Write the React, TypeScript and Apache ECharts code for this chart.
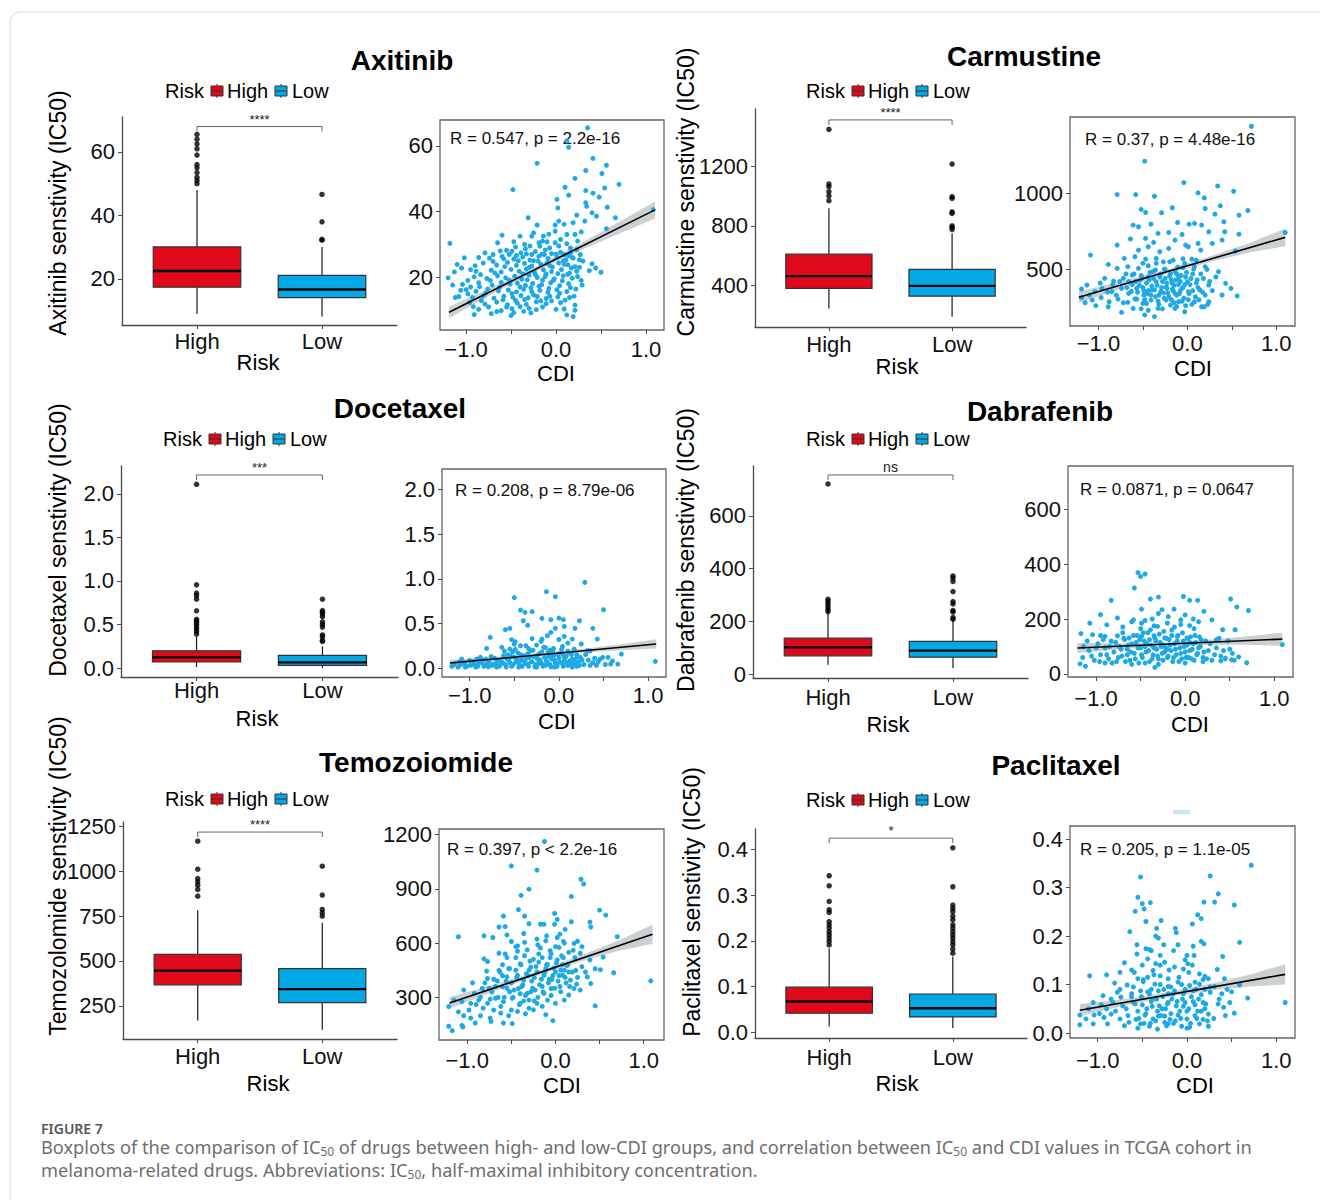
import React, { useEffect, useRef } from "react";
import * as echarts from "echarts";

const FONT = "'Liberation Sans', Arial, Helvetica, sans-serif";
const CAP_FONT = "'Noto Sans', 'Open Sans', sans-serif";
const RED = "#E0091B";
const BLUE = "#04A8E6";
const DOT = "#1DA9E6";

// ===== categories and labels =====
const riskGroups = ["High", "Low"];
const panelTitles = ["Axitinib", "Carmustine", "Docetaxel", "Dabrafenib", "Temozoiomide", "Paclitaxel"];
const yAxisTitles = [
  "Axitinib senstivity (IC50)",
  "Carmustine senstivity (IC50)",
  "Docetaxel senstivity (IC50)",
  "Dabrafenib senstivity (IC50)",
  "Temozolomide senstivity (IC50)",
  "Paclitaxel senstivity (IC50)",
];
const statLabels = [
  "R = 0.547, p = 2.2e-16",
  "R = 0.37, p = 4.48e-16",
  "R = 0.208, p = 8.79e-06",
  "R = 0.0871, p = 0.0647",
  "R = 0.397, p < 2.2e-16",
  "R = 0.205, p = 1.1e-05",
];
const signifLabels = ["****", "****", "***", "ns", "****", "*"];
const bracketLevels = [68, 1508, 2.217, 755, 1218, 0.424];

// ===== tick labels =====
const boxTickValues = [
  [20, 40, 60],
  [400, 800, 1200],
  [0, 0.5, 1, 1.5, 2],
  [0, 200, 400, 600],
  [250, 500, 750, 1000, 1250],
  [0, 0.1, 0.2, 0.3, 0.4],
];
const scatterTickValues = [
  [20, 40, 60],
  [500, 1000],
  [0, 0.5, 1, 1.5, 2],
  [0, 200, 400, 600],
  [300, 600, 900, 1200],
  [0, 0.1, 0.2, 0.3, 0.4],
];
const tickDecimals = [0, 0, 1, 0, 0, 1];
const cdiTickValues = [-1, -0.5, 0, 0.5, 1];
const cdiLabelValues = [-1, 0, 1];

// ===== Axitinib =====
const axitinibHigh = [9, 17.4, 22.5, 30.1, 48];
const axitinibLow = [8.2, 14.1, 16.7, 21.1, 30.1];
const axitinibOutHigh = [65.5, 64, 62.5, 61, 59, 56, 55, 53.5, 52, 51, 50];
const axitinibOutLow = [46.6, 38, 32.5, 32.2];
const axitinibFit = [[-1.19, 9.3], [1.1, 40.5]];
const axitinibBand = [[-1.19, 7.5, 11.1], [-0.7, 15.0, 17.0], [-0.25, 21.4, 22.8], [0.3, 28.5, 30.7], [0.7, 33.2, 36.8], [1.1, 37.9, 43.1]];
const axitinibPoints = [
  [0.35,65.5],[0.12,61.5],[0.14,59.6],[-0.21,54.7],[0.41,56.2],[0.56,54.1],[0.33,52.5],[0.51,51.6],[0.21,50.1],[0.7,48.3],
  [-0.48,46.7],[0.1,47.4],[0.33,46.4],[0.54,47.2],[0.41,45.6],[0.01,43.7],[0.48,44.4],[0.14,45],[0.33,42.7],[0.34,41.6],
  [0.02,41.1],[0.57,41.3],[0.4,39.6],[0.23,38.9],[0.45,38.6],[-0.31,38.1],[0.66,38.1],[0.03,37.1],[0.32,37.1],[-0.21,35.9],
  [-0.01,35.9],[0.09,36.1],[0.19,36.6],[0.56,34.8],[-0.01,34],[-0.6,32.8],[-0.4,32.5],[-0.27,32.5],[-0.14,32.5],[0.12,33],
  [0.21,33],[-1.18,30.3],[-0.65,30.5],[-0.47,30.8],[-0.19,30.5],[-0.1,30.8],[-0.01,30.5],[-0.29,29.5],[-0.18,29.5],[-0.07,28.9],
  [0.03,29.5],[0.16,28.9],[0.23,28.4],[-0.79,27.4],[-0.7,26.9],[-0.49,27.9],[-0.39,27.4],[-0.27,26.9],[0.09,26.9],[0.27,26.9],
  [-1.02,25.9],[-1.1,23.9],[-1.05,22.8],[0.3,24.9],[0.4,24.1],[0.44,22.8],[0.37,22],[0.5,21.5],[0.23,21.8],[-1.2,19.8],
  [-1.13,21.6],[-0.89,21.8],[-0.84,20.8],[1.08,40.6],
  [-0.55,28.2],[-0.34,28.6],[-0.23,27.8],[-0.12,28.3],[0.05,27.6],[0.16,27.5],
  [-0.74,25.8],[-0.6,26.3],[-0.47,25.5],[-0.37,26.1],[-0.29,25.2],[-0.19,26.4],[-0.09,25.7],[0.01,26],[0.11,25.3],[0.19,25.8],
  [-0.81,24.3],[-0.66,23.7],[-0.54,24.5],[-0.44,23.6],[-0.35,24.2],[-0.27,23.4],[-0.17,24],[-0.07,23.5],[0.03,24.3],[0.13,23.8],[0.21,23.2],
  [-0.95,22.3],[-0.72,22.1],[-0.61,21.6],[-0.5,22.4],[-0.41,21.8],[-0.33,22.5],[-0.24,21.5],[-0.14,22.2],[-0.05,21.7],[0.06,22.3],[0.15,21.2],
  [-0.91,20.1],[-0.77,19.6],[-0.65,20.4],[-0.56,19.8],[-0.46,20.3],[-0.38,19.4],[-0.3,20.6],[-0.21,19.9],[-0.12,20.2],[-0.02,19.5],[0.08,20.4],[0.18,19.7],
  [-1.04,17.8],[-0.86,18.3],[-0.71,17.6],[-0.61,18.4],[-0.51,17.9],[-0.43,18.2],[-0.34,17.5],[-0.26,18.1],[-0.16,17.7],[-0.06,18.3],[0.04,17.4],[0.14,18],[0.29,17.6],
  [-1,16.2],[-0.89,15.7],[-0.76,16.4],[-0.64,15.8],[-0.53,16.1],[-0.44,15.5],[-0.36,16.3],[-0.27,15.6],[-0.18,16],[-0.09,15.4],[0.01,16.2],[0.12,15.6],[0.22,16.4],
  [-1.08,14.1],[-0.93,13.8],[-0.81,14.3],[-0.69,13.6],[-0.58,14.2],[-0.48,13.9],[-0.39,14.4],[-0.31,13.7],[-0.21,14.1],[-0.11,13.5],[0.02,14],[0.15,13.8],
  [-0.96,12.3],[-0.79,11.8],[-0.66,12.4],[-0.54,11.6],[-0.43,12.1],[-0.33,11.7],[-0.22,12.5],[-0.11,11.9],[0.05,12.2],[0.21,11.5],
  [-0.86,10.2],[-0.61,9.8],[-0.49,10.4],[-0.36,9.6],[-0.22,10.1],[0.09,10.3],[0.21,9.9],
  [-0.91,8.6],[-0.72,8.9],[-0.5,8.3],[-0.28,9.1],[0.12,8.5],[0.19,8],
  [-0.85,17.1],[-0.78,15.2],[-0.73,19.0],[-0.68,21.3],[-0.63,16.9],[-0.59,13.1],[-0.57,23.2],[-0.52,19.1],[-0.49,15.0],[-0.45,12.9],
  [-0.42,25.0],[-0.4,17.0],[-0.37,21.0],[-0.35,13.2],[-0.32,19.2],[-0.3,23.0],[-0.28,16.8],[-0.25,14.6],[-0.23,20.8],[-0.2,24.9],
  [-0.19,17.2],[-0.17,12.8],[-0.15,19.1],[-0.13,26.9],[-0.11,21.0],[-0.08,16.6],[-0.07,14.2],[-0.04,23.1],[-0.03,19.0],[0.0,27.0],
  [0.02,21.1],[0.04,15.1],[0.07,18.9],[0.09,23.9],[0.1,13.0],[0.13,20.9],[0.16,16.8],[0.18,26.0],[0.2,14.2],[0.24,20.2],
  [0.26,23.0],[0.28,19.0],[-0.95,17.0],[-0.98,14.9],[-0.92,11.0],[-0.83,12.9],[-0.75,10.9],[-0.66,9.5],[-0.55,10.9],[-0.47,9.2],
  [-0.4,11.0],[-0.3,10.5],[-0.15,10.9],[-0.05,12.8],[0.0,10.2],[-0.62,28.0],[-0.45,29.2],[-0.35,30.0],[-0.15,31.0],[0.05,31.5],
  [0.12,30.2],[-0.25,33.5],[-0.08,33.1],[-0.52,26.9],[-0.44,26.6],[-0.33,27.1],[-0.16,27.0],[-0.05,27.2],[0.14,26.6],[0.24,31.0],
  [0.28,33.8],[-0.9,23.5],[-0.98,19.0],[-1.06,16.0],[-1.12,13.8],[-1.15,17.6],[-0.86,26.0],[-0.7,24.8],[-0.58,25.6],[-0.25,25.0],
  [-0.1,24.3],[0.08,24.9],[0.17,22.8],[0.26,25.3],
];

// ===== Carmustine =====
const carmustineHigh = [248, 382, 464, 611, 917];
const carmustineLow = [192, 330, 399, 509, 750];
const carmustineOutHigh = [1445, 1080, 1062, 1028, 1001, 968];
const carmustineOutLow = [1213, 995, 984, 894, 883, 800, 790, 776];
const carmustineFit = [[-1.22, 316], [1.1, 711]];
const carmustineBand = [[-1.22, 278, 354], [-0.7, 381, 428], [-0.25, 467, 495], [0.3, 555, 595], [0.7, 612, 674], [1.1, 652, 770]];
const carmustinePoints = [
  [0.72,1443],[-0.48,1213],[-0.04,1072],[-0.79,993],[-0.58,993],[-0.37,982],[0.12,1004],[0.34,1050],[0.19,971],[0.52,1015],
  [0.37,919],[-0.17,906],[-0.52,895],[-0.47,875],[-0.29,873],[0.2,901],[0.31,864],[0.58,857],[0.68,888],[-0.61,792],
  [-0.55,781],[-0.41,798],[-0.11,809],[0.02,798],[0.08,803],[0.16,792],[0.41,814],[-0.33,737],[-0.21,743],[-0.06,730],
  [0.24,748],[0.42,748],[0.58,732],[-0.64,700],[-0.47,704],[-0.38,678],[-0.14,693],[-0.02,660],[0.12,671],[0.28,671],
  [0.39,693],[-0.79,660],[-1.09,594],[-0.55,627],[-0.44,649],[-0.31,616],[-0.21,638],[0.01,649],[0.15,627],[-0.71,572],
  [-0.59,583],[-0.47,568],[-0.35,572],[-0.27,550],[-0.16,561],[-0.03,539],[0.05,568],[0.54,621],[-0.89,533],[-0.79,507],
  [-0.67,518],[-0.55,507],[-0.44,524],[-0.36,496],[-0.26,502],[-0.14,485],[-0.05,511],[0.07,502],[0.2,518],[0.35,485],
  [-0.93,441],[-0.83,423],[-0.72,441],[-0.62,463],[-0.53,430],[-0.44,452],[-0.35,419],[-0.25,441],[-0.17,408],[-0.1,445],
  [0,419],[0.11,430],[0.24,397],[0.43,408],[0.49,375],[-1.19,371],[-1.13,397],[-1.04,353],[-0.96,375],[-0.85,353],
  [-0.74,375],[-0.66,342],[-0.57,375],[-0.49,331],[-0.4,364],[-0.32,331],[-0.23,375],[-0.14,342],[-0.06,375],[0.01,353],
  [0.14,364],[0.2,331],[0.39,331],[0.56,325],[-1.19,314],[-1.07,298],[-0.97,314],[-0.88,287],[-0.78,305],[-0.67,283],
  [-0.59,305],[-0.5,276],[-0.41,298],[-0.32,270],[-0.24,298],[-0.19,265],[-0.1,287],[-0.02,261],[0.08,287],[0.16,254],
  [0.24,287],[-1.03,261],[-0.89,254],[-0.74,217],[-0.61,243],[-0.48,200],[-0.37,189],[-0.33,243],[-0.14,243],[-0.03,221],
  [0.19,254],[0.23,270],[1.1,743],
  [-0.52,460],[-0.46,410],[-0.42,480],[-0.38,440],[-0.34,395],[-0.3,470],[-0.28,420],[-0.24,385],[-0.2,455],[-0.18,430],
  [-0.15,395],[-0.12,470],[-0.08,420],[-0.05,380],[-0.02,450],[0.03,400],[0.06,470],[-0.56,350],[-0.48,300],[-0.44,360],
  [-0.36,320],[-0.3,355],[-0.26,310],[-0.22,345],[-0.18,300],[-0.12,330],[-0.08,360],[-0.04,310],[0.02,340],[0.09,320],
  [-0.62,400],[-0.68,380],[-0.58,420],[-0.5,380],[-0.45,340],[-0.4,390],[-0.1,400],[-0.16,360],[0.12,380],[0.18,440],
  [-0.66,420],[-0.63,355],[-0.6,470],[-0.57,305],[-0.54,395],[-0.51,445],[-0.49,360],[-0.46,275],[-0.43,430],[-0.41,330],
  [-0.39,485],[-0.37,365],[-0.33,290],[-0.31,450],[-0.29,380],[-0.27,345],[-0.25,500],[-0.23,410],[-0.21,320],[-0.19,470],
  [-0.17,370],[-0.15,280],[-0.13,430],[-0.11,515],[-0.09,340],[-0.07,460],[-0.06,290],[-0.03,400],[-0.01,480],[0.01,300],
  [0.04,440],[0.06,360],[0.08,520],[0.1,410],[0.13,300],[0.15,470],[0.17,350],[0.22,500],[0.25,420],[0.28,360],
  [0.32,450],[-0.8,330],[-0.76,420],[-0.72,280],[-0.69,470],[-0.84,400],[-0.9,350],[-0.98,410],[-1.1,330],[-1.15,280],
  [-0.52,240],[-0.44,230],[-0.28,240],[-0.12,255],[0.05,270],[-0.35,540],[-0.2,550],[-0.05,570],[0.1,560],[-0.5,540],
];

// ===== Docetaxel =====
const docetaxelHigh = [0.011, 0.069, 0.122, 0.198, 0.362];
const docetaxelLow = [0.0, 0.03, 0.065, 0.145, 0.248];
const docetaxelOutHigh = [2.11, 0.955, 0.86, 0.83, 0.79, 0.657, 0.56, 0.54, 0.52, 0.5, 0.47, 0.45, 0.42, 0.39];
const docetaxelOutLow = [0.79, 0.66, 0.64, 0.62, 0.59, 0.53, 0.5, 0.47, 0.38, 0.36, 0.32, 0.305];
const docetaxelFit = [[-1.22, 0.056], [1.09, 0.27]];
const docetaxelBand = [[-1.22, 0.02, 0.092], [-0.7, 0.082, 0.126], [-0.25, 0.13, 0.162], [0.3, 0.175, 0.219], [0.7, 0.2, 0.268], [1.09, 0.218, 0.322]];
const docetaxelPoints = [
  [0.29,0.96],[-0.14,0.856],[-0.04,0.8],[-0.5,0.79],[-0.43,0.65],[-0.38,0.624],[-0.3,0.632],[0.5,0.654],[-0.4,0.53],[-0.35,0.48],
  [-0.19,0.557],[-0.09,0.542],[0,0.56],[0.05,0.542],[0.23,0.53],[-0.55,0.445],[-0.6,0.43],[-0.04,0.445],[0.06,0.467],[0.18,0.445],
  [0.38,0.445],[-0.77,0.344],[-0.53,0.318],[-0.49,0.295],[-0.13,0.362],[-0.09,0.4],[-0.19,0.325],[0.06,0.355],[0.15,0.325],[0.43,0.325],
  [-0.81,0.22],[-0.64,0.232],[-0.55,0.213],[-0.43,0.25],[-0.34,0.22],[-0.25,0.258],[-0.17,0.232],[-0.06,0.22],[0.04,0.243],[0.17,0.213],
  [0.32,0.194],[0.49,0.12],[0.55,0.12],[0.7,0.157],[0.58,0.045],[0.66,0.045],[1.08,0.075],[-1.09,0.1],[-0.92,0.1],
  [-1.2,0.02],[-1.17,0.05],[-1.13,0.01],[-1.1,0.04],[-1.06,0.06],[-1.03,0.02],[-0.99,0.03],[-0.96,0.07],[-0.93,0.01],[-0.9,0.05],
  [-0.87,0.09],[-0.84,0.02],[-0.81,0.04],[-0.78,0.07],[-0.75,0.03],[-0.72,0.11],[-0.7,0.05],[-0.67,0.02],[-0.65,0.08],[-0.62,0.14],
  [-0.6,0.04],[-0.58,0.1],[-0.55,0.06],[-0.53,0.02],[-0.5,0.12],[-0.48,0.07],[-0.46,0.17],[-0.44,0.03],[-0.42,0.09],[-0.4,0.14],
  [-0.38,0.05],[-0.36,0.11],[-0.34,0.02],[-0.32,0.19],[-0.3,0.07],[-0.28,0.13],[-0.26,0.04],[-0.24,0.1],[-0.22,0.16],[-0.2,0.06],
  [-0.18,0.02],[-0.16,0.12],[-0.14,0.08],[-0.12,0.18],[-0.1,0.04],[-0.08,0.1],[-0.06,0.14],[-0.04,0.06],[-0.02,0.02],[0,0.11],
  [0.02,0.17],[0.04,0.05],[0.06,0.09],[0.08,0.13],[0.1,0.03],[0.12,0.08],[0.14,0.15],[0.16,0.05],[0.18,0.1],[0.2,0.02],
  [0.22,0.07],[0.24,0.12],[0.28,0.04],[0.33,0.09],[0.38,0.06],[0.42,0.03],[0.46,0.1],[-0.57,0.15],[-0.35,0.16],[-0.15,0.03],
  [0.05,0.14],[-0.45,0.01],[-0.25,0.01],[-0.05,0.01],[-0.7,0.01],[0.15,0.01],[-0.88,0.12],[-0.52,0.18],[-0.1,0.2],[0.1,0.19],[0.2,0.15],
  [-1.18,0.035],[-1.12,0.065],[-1.05,0.012],[-1.0,0.085],[-0.95,0.04],[-0.91,0.02],[-0.86,0.06],[-0.82,0.1],[-0.79,0.015],[-0.76,0.13],
  [-0.73,0.045],[-0.69,0.085],[-0.66,0.03],[-0.63,0.06],[-0.61,0.19],[-0.59,0.012],[-0.56,0.09],[-0.54,0.13],[-0.51,0.04],[-0.49,0.21],
  [-0.47,0.1],[-0.45,0.06],[-0.43,0.15],[-0.41,0.02],[-0.39,0.08],[-0.37,0.25],[-0.35,0.045],[-0.33,0.12],[-0.31,0.07],[-0.29,0.2],
  [-0.27,0.015],[-0.25,0.14],[-0.23,0.05],[-0.21,0.09],[-0.19,0.18],[-0.17,0.035],[-0.15,0.23],[-0.13,0.065],[-0.11,0.13],[-0.09,0.015],
  [-0.07,0.19],[-0.05,0.09],[-0.03,0.04],[-0.01,0.15],[0.01,0.065],[0.03,0.21],[0.05,0.02],[0.07,0.12],[0.09,0.06],[0.11,0.17],
  [0.13,0.035],[0.15,0.1],[0.17,0.2],[0.19,0.05],[0.21,0.13],[0.23,0.03],[0.26,0.09],[0.3,0.15],[0.35,0.03],[0.4,0.11],
  [0.44,0.07],[0.52,0.04],[0.6,0.08],[0.35,0.19],[0.25,0.27],[-0.2,0.3],[0.1,0.28],[-0.5,0.27],[-0.3,0.33],[0.0,0.32],
];

// ===== Dabrafenib =====
const dabrafenibHigh = [35, 69, 101, 136, 250];
const dabrafenibLow = [23, 64, 89, 124, 206];
const dabrafenibOutHigh = [721, 284, 275, 266, 256, 246, 237];
const dabrafenibOutLow = [372, 364, 351, 313, 275, 266, 241, 235, 214, 208];
const dabrafenibFit = [[-1.21, 94.5], [1.09, 127]];
const dabrafenibBand = [[-1.21, 76, 113], [-0.7, 91, 112], [-0.25, 101, 115], [0.3, 106, 125.5], [0.7, 106, 137], [1.09, 103, 151]];
const dabrafenibPoints = [
  [-0.53,369],[-0.5,355],[-0.45,364],[-0.57,313],[-0.83,268],[-0.39,273],[-0.3,280],[-0.02,282],[0.05,268],[0.14,268],
  [0.51,273],[0.58,244],[0.71,231],[-0.49,236],[-0.26,234],[-0.125,236],[0.21,228],[-0.95,216],[-0.76,204],[-0.58,197],
  [-0.37,200],[-0.19,209],[-0.05,197],[0.09,200],[0.3,197],[-1.07,185],[-0.88,179],[-0.7,171],[-0.49,185],[-0.31,173],
  [-0.12,171],[0.05,176],[0.42,161],[0.56,161],[-1.17,147],[-1.04,143],[-0.9,137],[-0.76,139],[-0.63,131],[-0.49,137],
  [-0.35,139],[-0.23,131],[-0.09,137],[0.02,131],[0.16,135],[0.35,125],[1.09,107],[-1.14,100],[-1.18,37],[-1.12,28],
  [-0.34,24],[0.69,41],[0.45,58],[0.52,52],[0.6,62],[0.4,48],
  [-1.15,60],[-1.08,85],[-1.02,50],[-0.98,110],[-0.95,70],[-0.9,95],[-0.86,55],[-0.83,120],[-0.8,80],[-0.77,45],
  [-0.74,100],[-0.71,65],[-0.68,125],[-0.65,90],[-0.62,50],[-0.6,110],[-0.57,75],[-0.54,140],[-0.52,40],[-0.5,95],
  [-0.48,60],[-0.46,120],[-0.44,80],[-0.42,150],[-0.4,45],[-0.38,105],[-0.36,70],[-0.34,130],[-0.32,90],[-0.3,55],
  [-0.28,115],[-0.26,75],[-0.24,155],[-0.22,95],[-0.2,60],[-0.18,125],[-0.16,85],[-0.14,45],[-0.12,110],[-0.1,70],
  [-0.08,140],[-0.06,95],[-0.04,55],[-0.02,120],[0,80],[0.02,105],[0.04,60],[0.06,135],[0.08,90],[0.1,50],
  [0.12,115],[0.14,75],[0.17,100],[0.2,60],[0.23,120],[0.26,85],[0.3,50],[0.35,95],[0.4,65],[0.45,55],
  [0.5,90],[0.55,50],[-0.9,40],[-0.6,35],[-0.3,35],[0,40],[0.2,45],[-0.7,150],[-0.5,165],[-0.35,175],
  [-0.15,160],[-0.05,180],[0.1,165],[-0.95,140],[-0.45,100],[-0.25,105],[-0.55,115],[-0.2,90],[0.05,115],[-0.65,70],[-0.4,125],
  [-1.1,120],[-1.05,65],[-1.0,95],[-0.96,45],[-0.92,125],[-0.88,70],[-0.85,100],[-0.82,40],[-0.78,115],[-0.75,60],
  [-0.72,90],[-0.69,130],[-0.67,45],[-0.64,105],[-0.61,80],[-0.58,140],[-0.56,55],[-0.53,95],[-0.51,125],[-0.49,70],
  [-0.47,150],[-0.45,40],[-0.43,110],[-0.41,85],[-0.39,160],[-0.37,55],[-0.35,95],[-0.33,120],[-0.31,65],[-0.29,145],
  [-0.27,100],[-0.25,50],[-0.23,80],[-0.21,130],[-0.19,65],[-0.17,105],[-0.15,140],[-0.13,60],[-0.11,90],[-0.09,120],
  [-0.07,45],[-0.05,75],[-0.03,150],[-0.01,100],[0.01,60],[0.03,130],[0.05,85],[0.07,55],[0.09,110],[0.11,140],
  [0.13,70],[0.15,95],[0.18,125],[0.21,80],[0.24,55],[0.28,110],[0.33,70],[0.38,130],[0.43,85],[0.48,120],
  [0.53,75],[-0.6,190],[-0.45,195],[-0.2,185],[0.15,190],[-0.3,220],[0.0,215],
];

// ===== Temozolomide =====
const temozolomideHigh = [168, 367, 446, 537, 783];
const temozolomideLow = [117, 268, 343, 457, 713];
const temozolomideOutHigh = [1167, 1011, 959, 941, 922, 898, 861];
const temozolomideOutLow = [1028, 867, 787, 768, 750];
const temozolomideFit = [[-1.2, 268], [1.1, 649]];
const temozolomideBand = [[-1.2, 238, 302], [-0.7, 332, 370], [-0.25, 412, 438], [0.3, 500, 534], [0.7, 555, 611], [1.1, 596, 702]];
const temozolomidePoints = [
  [-0.125,1162],[-0.5,1027],[-0.21,1004],[0.29,953],[0.32,927],[-0.3,898],[0.18,858],[-0.39,864],[-0.42,785],[0.5,782],
  [0.57,755],[-0.59,749],[-0.35,749],[-0.01,764],[0.02,731],[0.18,718],[0.39,716],[-0.3,707],[-0.17,704],[-0.13,704],
  [-0.64,689],[-0.57,691],[0.4,689],[-1.1,635],[-0.81,640],[-0.71,631],[-0.55,645],[-0.36,653],[-0.01,704],[0.11,676],
  [0.7,635],[-0.5,609],[-0.43,585],[-0.35,604],[-0.21,622],[-0.11,613],[0.02,631],[0.09,609],[0.21,598],[-0.81,513],
  [-0.77,498],[-0.64,544],[-0.57,540],[-0.43,555],[-0.32,562],[-0.17,573],[-0.06,558],[0.04,576],[0.15,549],[0.28,544],
  [0.39,507],[0.54,522],[0.45,458],[0.51,453],[0.66,436],[1.08,391],[-0.78,445],[-0.64,449],[-0.53,458],[-0.4,485],
  [-0.28,467],[-0.19,495],[-0.09,482],[0.02,507],[0.13,476],[0.23,449],[0.36,413],[-0.94,380],[-0.77,404],[-0.66,391],
  [-0.55,413],[-0.43,422],[-0.36,395],[-0.24,409],[-0.13,422],[-0.04,398],[0.08,422],[0.17,395],[0.24,373],[0.28,340],
  [0.4,376],[-1.04,340],[-0.92,322],[-0.83,349],[-0.72,331],[-0.6,358],[-0.52,331],[-0.42,349],[-0.32,322],[-0.23,340],
  [-0.13,322],[-0.05,349],[0.06,331],[0.15,313],[0.21,349],[-1.21,249],[-1.15,285],[-1.06,276],[-0.96,267],[-0.87,285],
  [-0.77,267],[-0.68,295],[-0.59,276],[-0.49,295],[-0.4,267],[-0.3,285],[-0.21,267],[-0.09,285],[0,267],[0.1,285],
  [0.45,253],[-1.04,198],[-0.96,185],[-0.85,198],[-0.74,185],[-0.62,213],[-0.53,198],[-0.43,222],[-0.34,209],[-0.25,231],
  [-0.11,204],[-1.21,140],[-1.17,116],[-1.06,144],[-1.05,136],[-0.91,158],[-0.73,167],[-0.59,158],[-0.49,155],[-0.03,171],
  [-0.6,420],[-0.5,380],[-0.45,450],[-0.38,360],[-0.33,430],[-0.27,390],[-0.22,470],[-0.18,370],[-0.12,440],[-0.07,400],
  [-0.02,460],[0.04,420],[0.1,450],[-0.55,350],[-0.48,300],[-0.4,320],[-0.36,280],[-0.28,330],[-0.2,300],[-0.15,360],
  [-0.05,310],[0.05,360],[0.12,380],[-0.7,400],[-0.75,350],[-0.65,300],[-0.85,300],[-0.3,450],[-0.1,480],[0,440],
  [0.08,480],[0.15,440],[-0.25,510],[-0.15,520],[-0.05,540],[0.07,530],[-0.45,520],[-0.6,480],
  [-0.68,360],[-0.63,440],[-0.58,300],[-0.56,390],[-0.52,460],[-0.47,340],[-0.44,410],[-0.41,260],[-0.39,480],[-0.37,370],
  [-0.34,310],[-0.31,420],[-0.29,500],[-0.26,350],[-0.24,280],[-0.21,440],[-0.19,540],[-0.16,400],[-0.14,330],[-0.11,460],
  [-0.08,380],[-0.06,520],[-0.03,420],[-0.01,350],[0.01,490],[0.03,390],[0.06,450],[0.09,520],[0.11,410],[0.14,480],
  [0.16,360],[0.19,440],[0.22,520],[0.25,410],[0.3,470],[0.34,440],[-0.8,380],[-0.74,290],[-0.7,230],[-0.82,240],
  [-0.9,260],[-0.98,230],[-1.1,220],[-0.62,250],[-0.5,230],[-0.3,240],[-0.15,250],[-0.55,520],[-0.35,530],[-0.2,590],
  [0.0,580],[0.1,600],[0.2,560],[-0.45,580],[-0.1,640],[0.05,650],[0.25,610],[0.3,580],
];

// ===== Paclitaxel =====
const paclitaxelHigh = [0.013, 0.042, 0.0676, 0.099, 0.184];
const paclitaxelLow = [0.0096, 0.034, 0.053, 0.084, 0.166];
const paclitaxelOutHigh = [0.342, 0.32, 0.286, 0.268, 0.262, 0.242, 0.235, 0.228, 0.22, 0.213, 0.206, 0.199, 0.191];
const paclitaxelOutLow = [0.403, 0.318, 0.278, 0.271, 0.264, 0.254, 0.246, 0.235, 0.228, 0.22, 0.213, 0.206, 0.198, 0.191, 0.182, 0.173];
const paclitaxelFit = [[-1.2, 0.047], [1.1, 0.121]];
const paclitaxelBand = [[-1.2, 0.035, 0.06], [-0.7, 0.056, 0.07], [-0.25, 0.073, 0.083], [0.3, 0.088, 0.103], [0.7, 0.096, 0.12], [1.1, 0.1, 0.142]];
const paclitaxelPoints = [
  [0.72,0.346],[-0.52,0.322],[0.26,0.324],[-0.55,0.28],[0.35,0.287],[-0.41,0.269],[-0.5,0.267],[0.19,0.27],[0.31,0.27],[0.53,0.264],
  [-0.58,0.251],[-0.48,0.256],[0.12,0.244],[-0.46,0.23],[-0.29,0.232],[0.16,0.236],[0.06,0.225],[-0.64,0.209],[-0.34,0.216],[-0.13,0.216],
  [-0.12,0.207],[-0.35,0.2],[-0.32,0.196],[0.59,0.187],[-0.26,0.182],[-0.56,0.182],[-0.46,0.174],[-0.42,0.172],[-0.1,0.182],[0.16,0.189],
  [0.19,0.184],[0.07,0.179],[-0.56,0.163],[-0.44,0.153],[-0.02,0.151],[0.01,0.143],[0.08,0.16],[0.4,0.158],[-0.7,0.145],[-0.35,0.143],
  [-0.25,0.146],[-0.14,0.136],[-0.75,0.125],[-0.59,0.125],[-0.38,0.129],[-0.04,0.132],[0.34,0.131],[-1.09,0.118],[-0.9,0.12],[-0.55,0.112],
  [-0.44,0.115],[-0.3,0.118],[-0.21,0.112],[0.14,0.122],[0.2,0.117],[0.24,0.112],[0.42,0.112],[-0.81,0.103],[-0.67,0.099],[-0.49,0.106],
  [-0.36,0.101],[-0.21,0.096],[-0.1,0.105],[0.03,0.098],[0.14,0.101],[0.31,0.096],[0.59,0.099],[-0.94,0.077],[-0.78,0.084],[-0.74,0.074],
  [-0.62,0.081],[-0.52,0.087],[-0.42,0.081],[-0.32,0.087],[-0.21,0.081],[-0.14,0.087],[-0.04,0.081],[0.07,0.087],[0.16,0.079],[0.26,0.084],
  [0.39,0.081],[0.5,0.085],[-1.05,0.063],[-0.96,0.058],[-0.83,0.063],[-0.72,0.056],[-0.6,0.063],[-0.5,0.058],[-0.4,0.065],[-0.31,0.056],
  [-0.21,0.063],[-0.12,0.056],[-0.02,0.063],[0.09,0.058],[0.18,0.063],[0.35,0.06],[0.41,0.053],[0.48,0.063],[0.68,0.072],[1.1,0.063],
  [-1.2,0.037],[-1.13,0.029],[-1.04,0.037],[-0.93,0.032],[-0.85,0.039],[-0.75,0.029],[-0.66,0.036],[-0.57,0.028],[-0.47,0.037],[-0.38,0.029],
  [-0.29,0.036],[-0.19,0.028],[-0.1,0.037],[0,0.029],[0.09,0.036],[0.18,0.028],[0.24,0.039],[0.43,0.036],[0.53,0.041],[-1.2,0.017],
  [-1.05,0.019],[-0.89,0.019],[-0.7,0.015],[-0.52,0.019],[-0.42,0.014],[-0.33,0.008],[-0.21,0.019],[-0.06,0.014],[0.03,0.012],[0.14,0.019],
  [0.24,0.014],[-0.45,0.05],[-0.38,0.07],[-0.33,0.045],[-0.27,0.075],[-0.24,0.05],[-0.17,0.07],[-0.08,0.045],[-0.05,0.07],[0.02,0.05],
  [0.05,0.075],[0.12,0.045],[-0.55,0.045],[-0.62,0.075],[-0.35,0.025],[-0.25,0.022],[-0.15,0.02],[-0.4,0.09],[-0.3,0.1],[-0.18,0.095],
  [-0.06,0.1],[0.1,0.09],[-0.48,0.02],[0.2,0.05],
  [-0.68,0.05],[-0.65,0.022],[-0.6,0.095],[-0.58,0.06],[-0.54,0.03],[-0.51,0.075],[-0.49,0.11],[-0.46,0.04],[-0.44,0.085],[-0.41,0.02],
  [-0.39,0.055],[-0.37,0.12],[-0.34,0.07],[-0.32,0.035],[-0.3,0.14],[-0.28,0.05],[-0.26,0.09],[-0.23,0.015],[-0.22,0.06],[-0.2,0.13],
  [-0.18,0.04],[-0.16,0.08],[-0.13,0.025],[-0.11,0.065],[-0.09,0.115],[-0.07,0.03],[-0.04,0.055],[-0.02,0.09],[0.0,0.045],[0.02,0.125],
  [0.04,0.02],[0.07,0.065],[0.09,0.105],[0.11,0.03],[0.13,0.07],[0.16,0.045],[0.18,0.11],[0.21,0.06],[0.23,0.025],[0.26,0.095],
  [-0.8,0.045],[-0.85,0.07],[-0.9,0.05],[-0.98,0.04],[-1.1,0.05],[-0.75,0.09],[-0.62,0.13],[-0.5,0.14],[-0.4,0.17],[-0.3,0.16],
  [-0.15,0.17],[0.0,0.16],[0.06,0.14],[-0.55,0.01],[-0.25,0.035],[0.0,0.01],[0.2,0.09],[0.3,0.03],[0.36,0.07],[0.45,0.09],
];

const panels = [
  { high: axitinibHigh, low: axitinibLow, outHigh: axitinibOutHigh, outLow: axitinibOutLow, fit: axitinibFit, band: axitinibBand, points: axitinibPoints },
  { high: carmustineHigh, low: carmustineLow, outHigh: carmustineOutHigh, outLow: carmustineOutLow, fit: carmustineFit, band: carmustineBand, points: carmustinePoints },
  { high: docetaxelHigh, low: docetaxelLow, outHigh: docetaxelOutHigh, outLow: docetaxelOutLow, fit: docetaxelFit, band: docetaxelBand, points: docetaxelPoints },
  { high: dabrafenibHigh, low: dabrafenibLow, outHigh: dabrafenibOutHigh, outLow: dabrafenibOutLow, fit: dabrafenibFit, band: dabrafenibBand, points: dabrafenibPoints },
  { high: temozolomideHigh, low: temozolomideLow, outHigh: temozolomideOutHigh, outLow: temozolomideOutLow, fit: temozolomideFit, band: temozolomideBand, points: temozolomidePoints },
  { high: paclitaxelHigh, low: paclitaxelLow, outHigh: paclitaxelOutHigh, outLow: paclitaxelOutLow, fit: paclitaxelFit, band: paclitaxelBand, points: paclitaxelPoints },
];

// ===== layout (pixels) =====
const layout = [
  { box: [122, 117, 275, 208], sc: [440, 120, 224, 210], boxY: [5.5, 71], scX: [-1.29, 1.2], scY: [3.9, 67.9], title: [402, 60], legend: [165, 91], yTitle: [58, 213], risk: [258, 362], cdi: [556, 373], stat: [450, 138], bm: 5, sm: 8 },
  { box: [755, 109, 271, 218], sc: [1070, 117, 225, 209], boxY: [124, 1581], scX: [-1.32, 1.21], scY: [127, 1504], title: [1024, 56], legend: [806, 91], yTitle: [686, 192], risk: [897, 366], cdi: [1193, 368], stat: [1085, 139], bm: 6, sm: 6 },
  { box: [121, 466, 277, 211], sc: [442, 469, 224, 208], boxY: [-0.103, 2.32], scX: [-1.31, 1.2], scY: [-0.1, 2.23], title: [400, 408], legend: [163, 439], yTitle: [58, 540], risk: [257, 718], cdi: [557, 721], stat: [455, 490], bm: 2, sm: 7 },
  { box: [753, 466, 275, 212], sc: [1068, 466, 225, 211], boxY: [-15, 789], scX: [-1.315, 1.21], scY: [-11, 757], title: [1040, 411], legend: [806, 439], yTitle: [686, 550], risk: [888, 724], cdi: [1190, 724], stat: [1080, 489], bm: 8, sm: 10 },
  { box: [123, 822, 274, 217], sc: [439, 829, 225, 211], boxY: [65, 1274], scX: [-1.32, 1.23], scY: [64, 1231], title: [416, 762], legend: [165, 799], yTitle: [58, 876], risk: [268, 1083], cdi: [562, 1085], stat: [447, 849], bm: 6, sm: 9 },
  { box: [755, 829, 272, 209], sc: [1070, 826, 225, 212], boxY: [-0.012, 0.444], scX: [-1.31, 1.21], scY: [-0.0103, 0.427], title: [1056, 765], legend: [806, 800], yTitle: [692, 902], risk: [897, 1083], cdi: [1195, 1085], stat: [1080, 849], bm: 8, sm: 11 },
];

const tickLabelStyle = { fontSize: 22, color: "#111", fontFamily: FONT };

function renderBox(params: any, api: any) {
  const x = api.value(0);
  const pMin = api.coord([x, api.value(1)]);
  const pQ1 = api.coord([x, api.value(2)]);
  const pMed = api.coord([x, api.value(3)]);
  const pQ3 = api.coord([x, api.value(4)]);
  const pMax = api.coord([x, api.value(5)]);
  const hw = api.size([0.7, 0])[0] / 2;
  const fill = params.dataIndex === 0 ? RED : BLUE;
  return {
    type: "group",
    children: [
      { type: "line", shape: { x1: pMin[0], y1: pMin[1], x2: pQ1[0], y2: pQ1[1] }, style: { stroke: "#1a1a1a", lineWidth: 1.2 } },
      { type: "line", shape: { x1: pQ3[0], y1: pQ3[1], x2: pMax[0], y2: pMax[1] }, style: { stroke: "#1a1a1a", lineWidth: 1.2 } },
      { type: "rect", shape: { x: pQ1[0] - hw, y: pQ3[1], width: hw * 2, height: pQ1[1] - pQ3[1] }, style: { fill, stroke: "#333", lineWidth: 1.2 } },
      { type: "line", shape: { x1: pMed[0] - hw, y1: pMed[1], x2: pMed[0] + hw, y2: pMed[1] }, style: { stroke: "#000", lineWidth: 2.4 } },
    ],
  };
}

function makeBracket(label: string) {
  return (params: any, api: any) => {
    const a = api.coord([api.value(0), api.value(2)]);
    const b = api.coord([api.value(1), api.value(2)]);
    return {
      type: "group",
      children: [
        { type: "polyline", shape: { points: [[a[0], a[1] + 5], [a[0], a[1]], [b[0], b[1]], [b[0], b[1] + 5]] }, style: { stroke: "#666", lineWidth: 1, fill: "none" } },
        { type: "text", style: { text: label, x: (a[0] + b[0]) / 2, y: a[1] - 1, fill: "#222", fontSize: label === "ns" ? 14 : 13, fontFamily: FONT, align: "center", verticalAlign: "bottom", textAlign: "center", textVerticalAlign: "bottom" } },
      ],
    };
  };
}

function makeBand(band: number[][]) {
  return (params: any, api: any) => {
    if (params.dataIndex !== 0) return null;
    const top = band.map((r) => api.coord([r[0], r[2]]));
    const bot = band.slice().reverse().map((r) => api.coord([r[0], r[1]]));
    return { type: "polygon", shape: { points: top.concat(bot) }, style: { fill: "rgba(140,150,156,0.45)" } };
  };
}

function legendEls(x0: number, yc: number) {
  const txt = (x: number, t: string) => ({ type: "text", x, y: yc, style: { text: t, fontSize: 20, fontFamily: FONT, fill: "#000", verticalAlign: "middle", textVerticalAlign: "middle" } });
  const glyph = (gx: number, color: string) => [
    { type: "line", shape: { x1: gx + 6, y1: yc - 7, x2: gx + 6, y2: yc + 7 }, style: { stroke: "#333", lineWidth: 1 } },
    { type: "rect", shape: { x: gx, y: yc - 5, width: 12, height: 10 }, style: { fill: color, stroke: "#333", lineWidth: 1 } },
    { type: "line", shape: { x1: gx, y1: yc, x2: gx + 12, y2: yc }, style: { stroke: "#333", lineWidth: 1 } },
  ];
  return [txt(x0, "Risk"), ...glyph(x0 + 46, RED), txt(x0 + 62, riskGroups[0]), ...glyph(x0 + 110, BLUE), txt(x0 + 127, riskGroups[1])];
}

function centerText(x: number, y: number, t: string, size: number, bold = false, rotate = false) {
  return {
    type: "text",
    x,
    y,
    rotation: rotate ? Math.PI / 2 : 0,
    style: { text: t, fontSize: size, fontWeight: bold ? "bold" : "normal", fontFamily: FONT, fill: "#000", align: "center", verticalAlign: "middle", textAlign: "center", textVerticalAlign: "middle" },
  };
}

function buildOption() {
  const grid: any[] = [];
  const xAxis: any[] = [];
  const yAxis: any[] = [];
  const series: any[] = [];
  const graphic: any[] = [];

  graphic.push({ type: "rect", shape: { x: 10, y: 12, width: 1400, height: 1300, r: 10 }, style: { fill: "none", stroke: "#d9d9d9", lineWidth: 1 }, z: -10 });

  panels.forEach((p, i) => {
    const L = layout[i];
    const gb = i * 2;
    const gs = i * 2 + 1;
    const dec = tickDecimals[i];
    const fmt = (v: number) => v.toFixed(dec);

    grid.push({ left: L.box[0], top: L.box[1], width: L.box[2], height: L.box[3] });
    grid.push({ left: L.sc[0], top: L.sc[1], width: L.sc[2], height: L.sc[3], show: true, borderColor: "#666", borderWidth: 1.3, backgroundColor: "transparent" });

    xAxis.push({
      type: "value", gridIndex: gb, min: 0.4, max: 2.6,
      axisLine: { show: true, onZero: false, lineStyle: { color: "#4a4a4a", width: 1.3 } },
      axisTick: { show: true, customValues: [1, 2], length: 4, lineStyle: { color: "#4a4a4a" } },
      axisLabel: { ...tickLabelStyle, customValues: [1, 2], margin: L.bm, formatter: (v: number) => riskGroups[Math.round(v) - 1] },
      splitLine: { show: false },
    });
    yAxis.push({
      type: "value", gridIndex: gb, min: L.boxY[0], max: L.boxY[1],
      axisLine: { show: true, onZero: false, lineStyle: { color: "#4a4a4a", width: 1.3 } },
      axisTick: { show: true, customValues: boxTickValues[i], length: 4, lineStyle: { color: "#4a4a4a" } },
      axisLabel: { ...tickLabelStyle, customValues: boxTickValues[i], margin: 7, formatter: fmt },
      splitLine: { show: false },
    });
    xAxis.push({
      type: "value", gridIndex: gs, min: L.scX[0], max: L.scX[1],
      axisLine: { show: false, onZero: false },
      axisTick: { show: true, customValues: cdiTickValues, length: 4, lineStyle: { color: "#4a4a4a" } },
      axisLabel: { ...tickLabelStyle, customValues: cdiLabelValues, margin: L.sm, formatter: (v: number) => (v < 0 ? "\u2212" : "") + Math.abs(v).toFixed(1) },
      splitLine: { show: false },
    });
    yAxis.push({
      type: "value", gridIndex: gs, min: L.scY[0], max: L.scY[1],
      axisLine: { show: false, onZero: false },
      axisTick: { show: true, customValues: scatterTickValues[i], length: 4, lineStyle: { color: "#4a4a4a" } },
      axisLabel: { ...tickLabelStyle, customValues: scatterTickValues[i], margin: 7, formatter: fmt },
      splitLine: { show: false },
    });

    series.push({
      type: "custom", xAxisIndex: gb, yAxisIndex: gb,
      data: [[1, ...p.high], [2, ...p.low]],
      encode: { x: 0, y: [1, 2, 3, 4, 5] },
      renderItem: renderBox, silent: true,
    });
    series.push({
      type: "scatter", xAxisIndex: gb, yAxisIndex: gb, symbolSize: 5.5,
      itemStyle: { color: "#000" }, silent: true,
      data: [...p.outHigh.map((v) => [1, v]), ...p.outLow.map((v) => [2, v])],
    });
    series.push({
      type: "custom", xAxisIndex: gb, yAxisIndex: gb,
      data: [[1, 2, bracketLevels[i]]],
      encode: { x: [0, 1], y: 2 },
      renderItem: makeBracket(signifLabels[i]), silent: true,
    });
    series.push({
      type: "scatter", xAxisIndex: gs, yAxisIndex: gs, symbolSize: 5,
      itemStyle: { color: DOT, opacity: 1 }, silent: true, data: p.points,
    });
    series.push({
      type: "custom", xAxisIndex: gs, yAxisIndex: gs,
      data: p.band, encode: { x: 0, y: [1, 2] },
      renderItem: makeBand(p.band), silent: true,
    });
    series.push({
      type: "line", xAxisIndex: gs, yAxisIndex: gs, data: p.fit,
      showSymbol: false, symbol: "none", silent: true,
      lineStyle: { color: "#000", width: 1.6 },
    });

    graphic.push(centerText(L.title[0], L.title[1], panelTitles[i], 28, true));
    graphic.push(...legendEls(L.legend[0], L.legend[1]));
    graphic.push(centerText(L.yTitle[0], L.yTitle[1], yAxisTitles[i], 23, false, true));
    graphic.push(centerText(L.risk[0], L.risk[1], "Risk", 22));
    graphic.push(centerText(L.cdi[0], L.cdi[1], "CDI", 22));
    graphic.push({ type: "text", x: L.stat[0], y: L.stat[1], style: { text: statLabels[i], fontSize: 17, fontFamily: FONT, fill: "#111", verticalAlign: "middle", textVerticalAlign: "middle" } });
  });

  graphic.push({ type: "rect", shape: { x: 1173, y: 810, width: 17, height: 4 }, style: { fill: "#c6e9f7" } });

  const rich = {
    sub: { fontSize: 12, fontFamily: CAP_FONT, fill: "#6e6e6e", verticalAlign: "bottom", lineHeight: 12 },
  };
  graphic.push({ type: "text", x: 41, y: 1128, style: { text: "FIGURE 7", fontSize: 14, fontWeight: 600, fontFamily: CAP_FONT, fill: "#555", verticalAlign: "middle", textVerticalAlign: "middle" } });
  graphic.push({
    type: "text", x: 41, y: 1147,
    style: {
      text: "Boxplots of the comparison of IC{sub|50} of drugs between high- and low-CDI groups, and correlation between IC{sub|50} and CDI values in TCGA cohort in",
      fontSize: 18.2, fontFamily: CAP_FONT, fill: "#6e6e6e", lineHeight: 20, verticalAlign: "middle", textVerticalAlign: "middle", rich,
    },
  });
  graphic.push({
    type: "text", x: 41, y: 1170,
    style: {
      text: "melanoma-related drugs. Abbreviations: IC{sub|50}, half-maximal inhibitory concentration.",
      fontSize: 18.2, fontFamily: CAP_FONT, fill: "#6e6e6e", lineHeight: 20, verticalAlign: "middle", textVerticalAlign: "middle", rich,
    },
  });

  return { animation: false, backgroundColor: "#fff", grid, xAxis, yAxis, series, graphic };
}

export default function App() {
  const ref = useRef<HTMLDivElement>(null);
  useEffect(() => {
    document.body.style.margin = "0";
    if (!ref.current) return;
    const chart = echarts.init(ref.current, null, { renderer: "svg" });
    chart.setOption(buildOption() as any);
    return () => chart.dispose();
  }, []);
  return <div ref={ref} style={{ width: 1320, height: 1200 }} />;
}
